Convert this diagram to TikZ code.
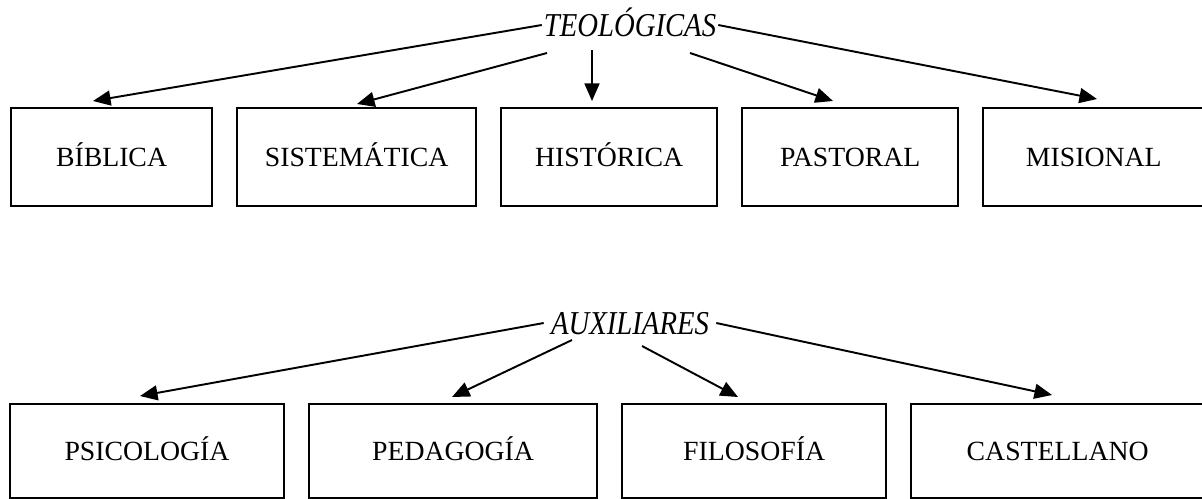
\documentclass[tikz,border=0pt]{standalone}
\usepackage{fontspec}
\setmainfont{Liberation Serif}
\usetikzlibrary{positioning,arrows.meta}
\newcommand{\headtext}[1]{\scalebox{0.86}[1]{#1}}
\begin{document}
\begin{tikzpicture}[x=0.02cm, y=-0.02cm,
    area/.style = {draw, line width=1.2pt, inner sep=0pt, text height=10.5pt, text depth=0pt,
                   font=\fontsize{15.8}{18}\selectfont},
    upbox/.style = {area, minimum height=1.96cm},
    lowbox/.style = {area, minimum height=1.88cm},
    head/.style = {font=\itshape\fontsize{19}{22}\selectfont, text height=12.6pt, text depth=0pt},
    arr/.style = {-{Triangle[length=10pt,width=8.5pt]}, line width=1.1pt},
    node distance=0.46cm]
  \useasboundingbox (0,0) rectangle (1202,498);
  % teologicas
  \node[head, inner sep=1pt] (teo) at (630,25) {\headtext{TEOLÓGICAS}};
  \node[upbox, minimum width=4.02cm, anchor=north west] (bib) at (10,107) {BÍBLICA};
  \node[upbox, minimum width=4.78cm] (sis) [right=of bib] {SISTEMÁTICA};
  \node[upbox, minimum width=4.32cm] (his) [right=of sis] {HISTÓRICA};
  \node[upbox, minimum width=4.32cm] (pas) [right=of his] {PASTORAL};
  \node[upbox, minimum width=4.42cm] (mis) [right=of pas] {MISIONAL};
  \coordinate (sisfrom) at (547,53);
  \coordinate (hisfrom) at (592,50);
  \coordinate (pasfrom) at (690,53);
  \coordinate (bibtip) at (93,101);
  \coordinate (sistip) at (357,104);
  \coordinate (histip) at (592,101);
  \coordinate (pastip) at (833,101);
  \coordinate (mistip) at (1097,99);
  %
  \draw[arr] (teo.west) -- (bibtip);
  \draw[arr] (sisfrom) -- (sistip);
  \draw[arr] (hisfrom) -- (histip);
  \draw[arr] (pasfrom) -- (pastip);
  \draw[arr] (teo.east) -- (mistip);
  % auxiliares
  \node[head, inner sep=4pt] (aux) at (630,323) {\headtext{AUXILIARES}};
  \node[lowbox, minimum width=5.48cm, anchor=north west] (psi) at (9,403) {PSICOLOGÍA};
  \node[lowbox, minimum width=5.76cm] (ped) [right=of psi] {PEDAGOGÍA};
  \node[lowbox, minimum width=5.28cm] (fil) [right=of ped] {FILOSOFÍA};
  \node[lowbox, minimum width=5.86cm] (cas) [right=of fil] {CASTELLANO};
  \coordinate (pedfrom) at (572,340);
  \coordinate (filfrom) at (642,346);
  \coordinate (psitip) at (140,396);
  \coordinate (pedtip) at (452,397);
  \coordinate (filtip) at (738,397);
  \coordinate (castip) at (1052,395);
  %
  \draw[arr] (aux.west) -- (psitip);
  \draw[arr] (pedfrom) -- (pedtip);
  \draw[arr] (filfrom) -- (filtip);
  \draw[arr] (aux.east) -- (castip);
\end{tikzpicture}
\end{document}
